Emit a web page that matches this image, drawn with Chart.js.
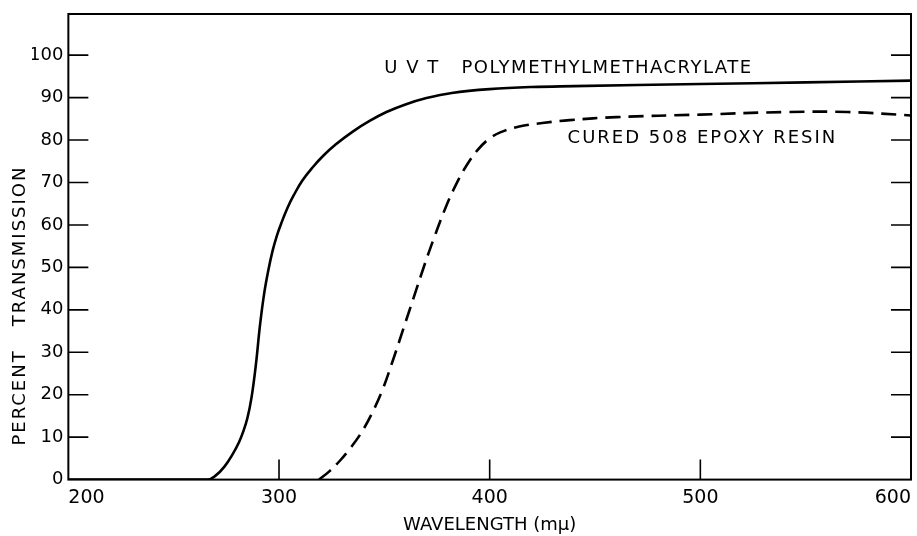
<!DOCTYPE html>
<html>
<head>
<meta charset="utf-8">
<title>Percent transmission</title>
<script src="https://cdn.jsdelivr.net/npm/chart.js@4.4.0/dist/chart.umd.min.js"></script>
<style>
  html, body { margin: 0; padding: 0; background: #fff; }
  #wrap { width: 917px; height: 536px; }
</style>
</head>
<body>
<div id="wrap"><canvas id="grafico"></canvas></div>
<script>
// UVT polymethylmethacrylate: wavelength (m\u03bc) and percent transmission
const pmmaWl = [200, 266, 270, 274, 278, 281, 283, 285, 287, 289, 291, 293, 295, 297, 299, 301, 304, 307, 311, 316, 321, 327, 335, 343, 351, 360, 370, 382, 400, 420, 440, 500, 550, 600];
const pmmaT  = [0, 0, 1, 3, 6, 8.8, 11.3, 14.5, 19.5, 27, 36.5, 44, 49.5, 54, 57.5, 60.3, 64, 67, 70.4, 73.6, 76.3, 79, 82, 84.5, 86.6, 88.4, 89.9, 91.1, 92, 92.5, 92.7, 93.2, 93.6, 94];

// cured 508 epoxy resin
const epoxyWl = [319, 324, 329, 334, 339, 344, 349, 354, 359, 364, 369, 374, 379, 384, 389, 394, 399, 405, 414, 425, 438, 460, 500, 540, 570, 600];
const epoxyT  = [0, 2, 4.5, 7.5, 11, 15.5, 21, 28, 35.5, 43, 50.5, 57.5, 64, 69.5, 74, 77.5, 80, 81.8, 83.2, 84, 84.7, 85.4, 86, 86.6, 86.6, 85.8];

const xTicks = [200, 300, 400, 500, 600];
const yTicks = [0, 10, 20, 30, 40, 50, 60, 70, 80, 90, 100];

const curveNames = ['U V T   POLYMETHYLMETHACRYLATE', 'CURED 508 EPOXY RESIN'];
const xTitle = 'WAVELENGTH (m\u03bc)';
const yTitle = 'PERCENT   TRANSMISSION';

const ink = '#000';
const fonte = '"DejaVu Sans", sans-serif';

function pares(xs, ys) {
    return xs.map((x, i) => ({ x: x, y: ys[i] }));
}

// box, inward tick marks, curve names and the vertical title
const moldura = {
    id: 'moldura',
    afterDraw(chart) {
        const ctx = chart.ctx;
        const a = chart.chartArea;
        const xs = chart.scales.x;
        const ys = chart.scales.y;
        ctx.save();
        ctx.strokeStyle = ink;
        ctx.lineWidth = 2;
        ctx.strokeRect(a.left, a.top, a.right - a.left, a.bottom - a.top);

        ctx.lineWidth = 1.6;
        ctx.beginPath();
        ys.ticks.forEach(t => {
            if (t.value === 0) return;
            const y = ys.getPixelForValue(t.value);
            ctx.moveTo(a.left, y); ctx.lineTo(a.left + 20, y);
            ctx.moveTo(a.right, y); ctx.lineTo(a.right - 20, y);
        });
        xs.ticks.forEach(t => {
            if (t.value === xs.min || t.value === xs.max) return;
            const x = xs.getPixelForValue(t.value);
            ctx.moveTo(x, a.bottom); ctx.lineTo(x, a.bottom - 20);
        });
        ctx.stroke();

        ctx.fillStyle = ink;
        ctx.font = '18px ' + fonte;
        ctx.textBaseline = 'middle';
        ctx.textAlign = 'left';
        ctx.letterSpacing = '1.5px';
        ctx.fillText(curveNames[0], xs.getPixelForValue(350), ys.getPixelForValue(97));
        ctx.letterSpacing = '2px';
        ctx.fillText(curveNames[1], xs.getPixelForValue(437), ys.getPixelForValue(80.4));

        ctx.translate(20, ys.getPixelForValue(41));
        ctx.rotate(-Math.PI / 2);
        ctx.textAlign = 'center';
        ctx.fillText(yTitle, 0, 0);
        ctx.restore();
    }
};

new Chart(document.getElementById('grafico'), {
    type: 'line',
    data: {
        datasets: [{
            label: curveNames[0],
            data: pares(pmmaWl, pmmaT),
            borderColor: ink,
            borderWidth: 2.6,
            pointRadius: 0,
            tension: 0.4
        }, {
            label: curveNames[1],
            data: pares(epoxyWl, epoxyT),
            borderColor: ink,
            borderWidth: 2.6,
            borderDash: [15, 8],
            pointRadius: 0,
            tension: 0.4
        }]
    },
    options: {
        responsive: true,
        maintainAspectRatio: false,
        animation: false,
        layout: { padding: { left: 32, top: 14, right: 6, bottom: 0 } },
        plugins: {
            legend: { display: false },
            tooltip: { enabled: false }
        },
        scales: {
            x: {
                type: 'linear',
                min: 200,
                max: 600,
                bounds: 'data',
                grid: { display: false },
                border: { display: false },
                afterBuildTicks: s => { s.ticks = xTicks.map(v => ({ value: v })); },
                ticks: { align: 'inner', padding: -0.5, color: ink, font: { family: fonte, size: 19 } },
                title: { display: true, text: xTitle, color: ink, padding: { top: 5, bottom: 0 }, font: { family: fonte, size: 18 } }
            },
            y: {
                type: 'linear',
                min: 0,
                max: 109.7,
                bounds: 'data',
                grid: { display: false },
                border: { display: false },
                afterBuildTicks: s => { s.ticks = yTicks.map(v => ({ value: v })); },
                ticks: { padding: -3, color: ink, font: { family: fonte, size: 18 } }
            }
        }
    },
    plugins: [moldura]
});
</script>
</body>
</html>
